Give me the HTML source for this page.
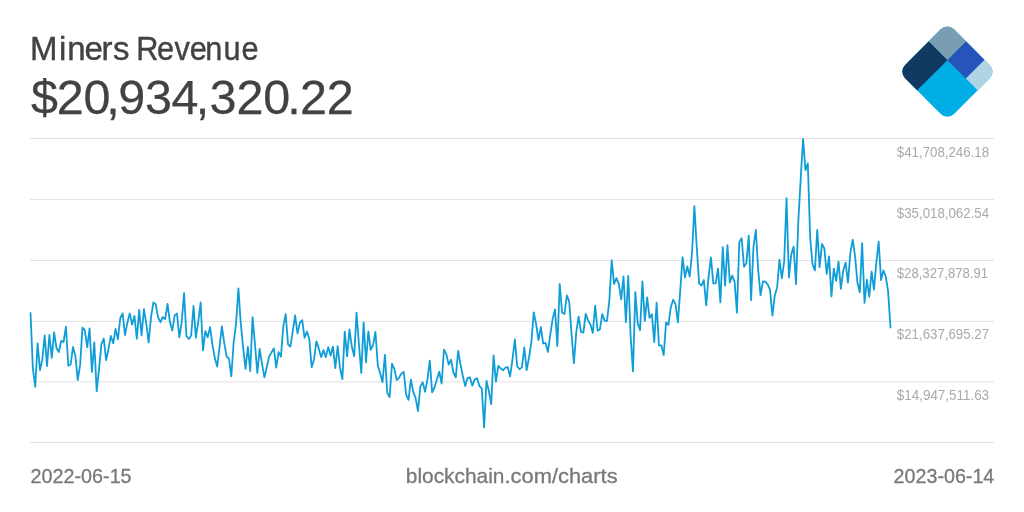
<!DOCTYPE html>
<html lang="en"><head><meta charset="utf-8"><title>Miners Revenue</title>
<style>
html,body{margin:0;padding:0;background:#fff}
body{width:1024px;height:512px;overflow:hidden;position:relative;font-family:"Liberation Sans",sans-serif}
svg{position:absolute;left:0;top:0}
svg{will-change:transform}
.t{font-size:33px;fill:#424242;stroke:#424242;stroke-width:.4px}
.v{font-size:48.5px;fill:#424242;stroke:#424242;stroke-width:.25px}
.g line{stroke:#e1e1e1;stroke-width:1}
.yl text{font-size:14.3px;fill:#a9a9a9}
.f text{font-size:21px;fill:#787878;stroke:#787878;stroke-width:.3px}
</style></head><body>
<svg width="1024" height="512" viewBox="0 0 1024 512">
<rect width="1024" height="512" fill="#fff"/>
<text class="t" y="59.8" x="30 59 67.3 84.5 101.5 113.1">Miners</text>
<text class="t" y="59.8" transform="scale(.9294 1)" x="146.55 169.03 187.65 204.11 220.90 240.59 259.95">Revenue</text>
<text class="v" y="114.2" text-anchor="middle" x="44.5 70.3 97.1 113.0 131.7 158.5 185.1 202.5 223.1 249.9 276.7 294.1 313.5 340.3">$20,934,320.22</text>
<g transform="translate(947.4 71.6) rotate(45)">
<clipPath id="c"><rect x="-34.7" y="-34.7" width="69.4" height="69.4" rx="9.5" ry="9.5"/></clipPath>
<g clip-path="url(#c)">
<rect x="-35" y="-35" width="70" height="70" fill="#00aee6"/>
<rect x="-35" y="-35" width="26.9" height="26.9" fill="#799eb2"/>
<rect x="-8.1" y="-35" width="26.1" height="26.9" fill="#2754ba"/>
<rect x="18" y="-35" width="17" height="26.9" fill="#b1d4e5"/>
<rect x="-35" y="-8.1" width="26.9" height="43.1" fill="#123962"/>
</g></g>
<g class="g"><line x1="30" x2="994" y1="138.5" y2="138.5"/><line x1="30" x2="994" y1="199.4" y2="199.4"/><line x1="30" x2="994" y1="260.5" y2="260.5"/><line x1="30" x2="994" y1="321.4" y2="321.4"/><line x1="30" x2="994" y1="381.8" y2="381.8"/><line x1="30" x2="994" y1="442.5" y2="442.5" stroke="#d9d9d9"/></g>
<path d="M30.5,312.2 L32.86,368.4 L35.23,386.9 L37.59,343.3 L39.95,370.2 L42.31,359.6 L44.68,335.5 L47.04,366.1 L49.4,335 L51.76,357.9 L54.13,332.4 L56.49,348.2 L58.85,352.1 L61.21,340.8 L63.58,342 L65.94,326.7 L68.3,365.8 L70.66,364.5 L73.03,347 L75.39,356.1 L77.75,380.2 L80.12,364.9 L82.48,327.6 L84.84,330.3 L87.2,347.3 L89.57,328.3 L91.93,371.9 L94.29,342.4 L96.65,391.3 L99.02,369.3 L101.38,344.3 L103.74,338.5 L106.1,360.2 L108.47,349.1 L110.83,335.9 L113.19,343.3 L115.55,328.9 L117.92,339.4 L120.28,318 L122.64,313.4 L125.01,335 L127.37,322.7 L129.73,313.4 L132.09,324.5 L134.46,316 L136.82,338.9 L139.18,309.9 L141.54,335.4 L143.91,309.2 L146.27,323.6 L148.63,342.5 L150.99,317.4 L153.36,302.5 L155.72,304.2 L158.08,317.4 L160.45,322.2 L162.81,317.1 L165.17,319.2 L167.53,303.9 L169.9,321.8 L172.26,330.6 L174.62,315.6 L176.98,313.5 L179.35,337.3 L181.71,321.8 L184.07,293.1 L186.43,336.2 L188.8,338.9 L191.16,335.5 L193.52,306 L195.88,337.6 L198.25,321.8 L200.61,302.5 L202.97,350.5 L205.34,331.1 L207.7,337.3 L210.06,327.1 L212.42,344.7 L214.79,357.8 L217.15,366.6 L219.51,347.3 L221.87,326.5 L224.24,342.9 L226.6,356.4 L228.96,358.7 L231.32,376.3 L233.69,342 L236.05,323.6 L238.41,288.4 L240.77,323.6 L243.14,347.3 L245.5,368.9 L247.86,346.9 L250.23,371.2 L252.59,317.1 L254.95,344 L257.31,373 L259.68,348.9 L262.04,364.2 L264.4,377.4 L266.76,367.2 L269.13,356.6 L271.49,352.4 L273.85,348.4 L276.21,367.7 L278.58,352.2 L280.94,356.6 L283.3,326.4 L285.66,314.1 L288.03,344.3 L290.39,346.6 L292.75,331.6 L295.12,315.3 L297.48,333.4 L299.84,322.9 L302.2,320.2 L304.57,337.8 L306.93,331.6 L309.29,339 L311.65,367.2 L314.02,359.4 L316.38,341.3 L318.74,348.4 L321.1,357.1 L323.47,350.1 L325.83,357.1 L328.19,347.1 L330.55,355.4 L332.92,346.6 L335.28,368.2 L337.64,346.1 L340.01,367.7 L342.37,379.1 L344.73,331.6 L347.09,356.3 L349.46,329.5 L351.82,346.6 L354.18,356.3 L356.54,312.7 L358.91,344 L361.27,373 L363.63,322.5 L365.99,362.4 L368.36,331.3 L370.72,349.8 L373.08,344.8 L375.45,332 L377.81,365.5 L380.17,373.4 L382.53,382.2 L384.9,354.9 L387.26,392.7 L389.62,397.1 L391.98,363.7 L394.35,369 L396.71,380.1 L399.07,377.8 L401.43,373.4 L403.8,372 L406.16,394.9 L408.52,399.8 L410.88,379.6 L413.25,391.9 L415.61,398 L417.97,411.2 L420.34,386.6 L422.7,382.2 L425.06,391.9 L427.42,379.6 L429.79,360.6 L432.15,392.4 L434.51,387.5 L436.87,379.6 L439.24,371.6 L441.6,383.6 L443.96,349.7 L446.32,354.1 L448.69,364.6 L451.05,359.7 L453.41,372.5 L455.77,377.3 L458.14,350.9 L460.5,364.6 L462.86,376 L465.23,386.1 L467.59,377.8 L469.95,377.5 L472.31,385.7 L474.68,379.6 L477.04,378.2 L479.4,386.1 L481.76,388.4 L484.13,427.4 L486.49,380.8 L488.85,391 L491.21,404.2 L493.58,355.4 L495.94,381.6 L498.3,365.8 L500.66,368.4 L503.03,370.4 L505.39,367.7 L507.75,367.2 L510.12,376.5 L512.48,359.3 L514.84,339.4 L517.2,366.3 L519.57,369.3 L521.93,367.2 L524.29,347.5 L526.65,370.2 L529.02,357.5 L531.38,342.1 L533.74,312.4 L536.1,324.1 L538.47,340 L540.83,327.1 L543.19,343.5 L545.55,342.9 L547.92,351.9 L550.28,334.7 L552.64,318.9 L555.01,309.5 L557.37,346.1 L559.73,284 L562.09,312.4 L564.46,313.9 L566.82,295.4 L569.18,301.3 L571.54,333.8 L573.91,363.3 L576.27,332 L578.63,316.7 L580.99,332 L583.36,332.6 L585.72,313.9 L588.08,320.6 L590.45,324.5 L592.81,332.9 L595.17,305.7 L597.53,330.6 L599.9,329.4 L602.26,314.1 L604.62,320.6 L606.98,321 L609.35,300.7 L611.71,260.2 L614.07,284 L616.43,278.2 L618.8,284 L621.16,299.3 L623.52,276.4 L625.88,322.3 L628.25,276 L630.61,335.7 L632.97,371.4 L635.34,292.1 L637.7,323.4 L640.06,330.1 L642.42,281.3 L644.79,320.8 L647.15,297.4 L649.51,317.8 L651.87,314.3 L654.24,342.2 L656.6,302.7 L658.96,345.4 L661.32,345.4 L663.69,355.1 L666.05,322.5 L668.41,324.8 L670.77,307.6 L673.14,299.7 L675.5,304.1 L677.86,322.5 L680.23,290.9 L682.59,257.1 L684.95,277.4 L687.31,266.5 L689.68,276.5 L692.04,252.7 L694.4,206.2 L696.76,247.5 L699.13,283.5 L701.49,285.6 L703.85,280 L706.21,305.4 L708.58,276.4 L710.94,257.4 L713.3,283.4 L715.66,283.4 L718.03,268.6 L720.39,302.4 L722.75,247.1 L725.12,285.7 L727.48,245.2 L729.84,282.5 L732.2,275.6 L734.57,281.6 L736.93,312.8 L739.29,242.2 L741.65,238.2 L744.02,266.7 L746.38,263.2 L748.74,235.7 L751.1,300.1 L753.47,246.6 L755.83,229.9 L758.19,270.2 L760.55,295.4 L762.92,281.3 L765.28,281.6 L767.64,284.3 L770.01,289.6 L772.37,315.6 L774.73,295.7 L777.09,287.8 L779.46,259.7 L781.82,278.3 L784.18,261.6 L786.54,198.2 L788.91,277.4 L791.27,254.6 L793.63,246.6 L795.99,284.1 L798.36,220.3 L800.72,178.4 L803.08,138.8 L805.45,170.1 L807.81,163.4 L810.17,237.9 L812.53,264.2 L814.9,270.4 L817.26,229.9 L819.62,267.2 L821.98,244 L824.35,248.4 L826.71,273.9 L829.07,256.3 L831.43,296.4 L833.8,268.6 L836.16,280.9 L838.52,261.6 L840.88,288.8 L843.25,270.4 L845.61,262.5 L847.97,282.7 L850.34,252.8 L852.7,239.6 L855.06,256.3 L857.42,282.7 L859.79,292.4 L862.15,243.1 L864.51,302.9 L866.87,279.7 L869.24,296.8 L871.6,271.6 L873.96,289.7 L876.32,262.5 L878.69,241.7 L881.05,280.1 L883.41,270.4 L885.77,276.5 L888.14,291.6 L890.5,328.2" fill="none" stroke="#0f9dd8" stroke-width="1.8" stroke-linejoin="round" stroke-linecap="butt"/>
<g class="yl"><text x="896.8" y="156.9" textLength="92.3" lengthAdjust="spacingAndGlyphs">$41,708,246.18</text><text x="896.8" y="217.6" textLength="92.3" lengthAdjust="spacingAndGlyphs">$35,018,062.54</text><text x="896.8" y="278.3" textLength="91.3" lengthAdjust="spacingAndGlyphs">$28,327,878.91</text><text x="896.8" y="339.0" textLength="92.3" lengthAdjust="spacingAndGlyphs">$21,637,695.27</text><text x="896.8" y="399.7" textLength="92.3" lengthAdjust="spacingAndGlyphs">$14,947,511.63</text></g>
<g class="f">
<text x="30.6" y="482.5" textLength="101" lengthAdjust="spacingAndGlyphs">2022-06-15</text>
<text y="482.5"><tspan x="405.8" textLength="98.7" lengthAdjust="spacingAndGlyphs">blockchain</tspan><tspan x="504.5" textLength="113.1" lengthAdjust="spacingAndGlyphs">.com/charts</tspan></text>
<text x="893.6" y="482.5" textLength="100.7" lengthAdjust="spacingAndGlyphs">2023-06-14</text>
</g>
</svg>
</body></html>
